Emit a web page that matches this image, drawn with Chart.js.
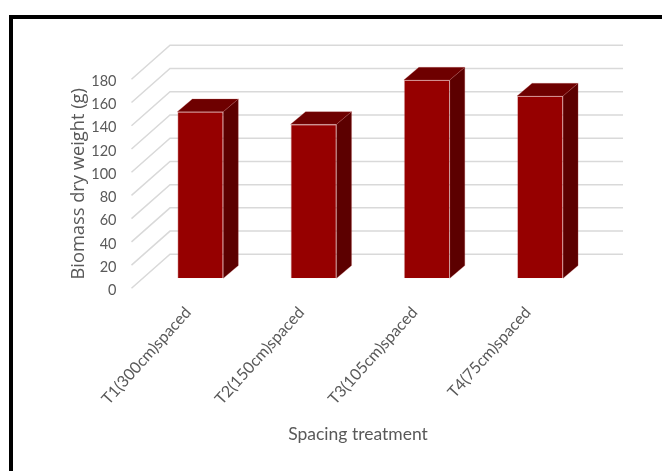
<!DOCTYPE html>
<html>
<head>
<meta charset="utf-8">
<script src="https://cdn.jsdelivr.net/npm/chart.js@4/dist/chart.umd.min.js"></script>
<style>
  html, body { margin: 0; padding: 0; background: #fff; overflow: hidden; }
  #wrap { position: relative; width: 662px; height: 471px; }
  #frame {
    position: absolute; left: 9px; top: 15px; width: 700px; height: 500px;
    border-left: 4px solid #000; border-top: 4px solid #000; pointer-events: none;
  }
</style>
</head>
<body>
<div id="wrap">
  <canvas id="c" width="662" height="471"></canvas>
  <div id="frame"></div>
</div>
<script>
// Treatments and measured biomass
const categories = ['T1(300cm)spaced', 'T2(150cm)spaced', 'T3(105cm)spaced', 'T4(75cm)spaced'];
const biomass = [143.5, 132.6, 170.8, 157.0];
const yTickValues = [0, 20, 40, 60, 80, 100, 120, 140, 160, 180];
const xTitle = 'Spacing treatment';
const yTitle = 'Biomass dry weight (g)';

// Oblique projection offsets for the 3D look
const WALL = { dx: 38.5, dy: -34 };   // back wall relative to the front plane
const FRONT = { dx: 12.2, dy: -10 };  // bar front faces relative to the front plane
const DEPTH = { dx: 15, dy: -12.7 };  // bar depth

const COLORS = {
  front: '#960000',
  top: '#6e0000',
  side: '#5c0000',
  edge: 'rgba(190,95,95,0.45)',
  grid: '#d9d9d9',
  text: '#595959'
};

const depth3d = {
  id: 'depth3d',
  beforeDatasetsDraw(chart) {
    const { ctx, chartArea: a, scales: { y } } = chart;
    ctx.save();
    ctx.strokeStyle = COLORS.grid;
    ctx.lineWidth = 1.5;
    y.ticks.forEach(t => {
      const py = y.getPixelForValue(t.value);
      ctx.beginPath();
      ctx.moveTo(a.left, py);
      ctx.lineTo(a.left + WALL.dx, py + WALL.dy);
      ctx.lineTo(a.right + WALL.dx, py + WALL.dy);
      ctx.stroke();
    });
    ctx.restore();
    // bars sit inside the box, behind the front plane
    ctx.save();
    ctx.translate(FRONT.dx, FRONT.dy);
  },
  afterDatasetsDraw(chart) {
    const { ctx } = chart;
    const meta = chart.getDatasetMeta(0);
    meta.data.forEach(bar => {
      const { x, y, base, width } = bar.getProps(['x', 'y', 'base', 'width'], true);
      const x0 = x - width / 2, x1 = x + width / 2;
      // top face
      ctx.beginPath();
      ctx.moveTo(x0, y);
      ctx.lineTo(x1, y);
      ctx.lineTo(x1 + DEPTH.dx, y + DEPTH.dy);
      ctx.lineTo(x0 + DEPTH.dx, y + DEPTH.dy);
      ctx.closePath();
      ctx.fillStyle = COLORS.top;
      ctx.fill();
      ctx.strokeStyle = COLORS.edge;
      ctx.lineWidth = 0.6;
      ctx.stroke();
      // side face
      ctx.beginPath();
      ctx.moveTo(x1, y);
      ctx.lineTo(x1 + DEPTH.dx, y + DEPTH.dy);
      ctx.lineTo(x1 + DEPTH.dx, base + DEPTH.dy);
      ctx.lineTo(x1, base);
      ctx.closePath();
      ctx.fillStyle = COLORS.side;
      ctx.fill();
      ctx.stroke();
    });
    ctx.restore();
  }
};

new Chart(document.getElementById('c'), {
  type: 'bar',
  data: {
    labels: categories,
    datasets: [{
      data: biomass,
      backgroundColor: COLORS.front,
      borderColor: COLORS.edge,
      borderWidth: 0.8,
      categoryPercentage: 1,
      barPercentage: 0.406
    }]
  },
  plugins: [depth3d],
  options: {
    responsive: false,
    animation: false,
    devicePixelRatio: 1,
    layout: { padding: { left: 64, right: 77.5, top: 79.3, bottom: 0 } },
    plugins: { legend: { display: false }, tooltip: { enabled: false } },
    scales: {
      x: {
        grid: { display: false, drawTicks: false },
        border: { display: false },
        afterFit: s => { s.height = 182.7; },
        ticks: {
          autoSkip: false, minRotation: 48, maxRotation: 48, padding: 15,
          color: COLORS.text, font: { family: 'Lato', size: 16 }
        },
        title: {
          display: true, text: xTitle, color: COLORS.text,
          font: { family: 'Lato', size: 17.5 }, padding: { top: 0, bottom: 26 }
        }
      },
      y: {
        min: 0, max: 180,
        afterFit: s => { s.width = 67.5; },
        afterBuildTicks: s => { s.ticks = yTickValues.map(v => ({ value: v })); },
        grid: { display: false, drawTicks: false },
        border: { display: false },
        ticks: {
          padding: 15, labelOffset: 2,
          color: COLORS.text, font: { family: 'Lato', size: 14.5 }
        },
        title: {
          display: true, text: yTitle, color: COLORS.text,
          font: { family: 'Open Sans', size: 18.3 }, padding: { top: 4, bottom: 4 }
        }
      }
    }
  }
});
</script>
</body>
</html>
